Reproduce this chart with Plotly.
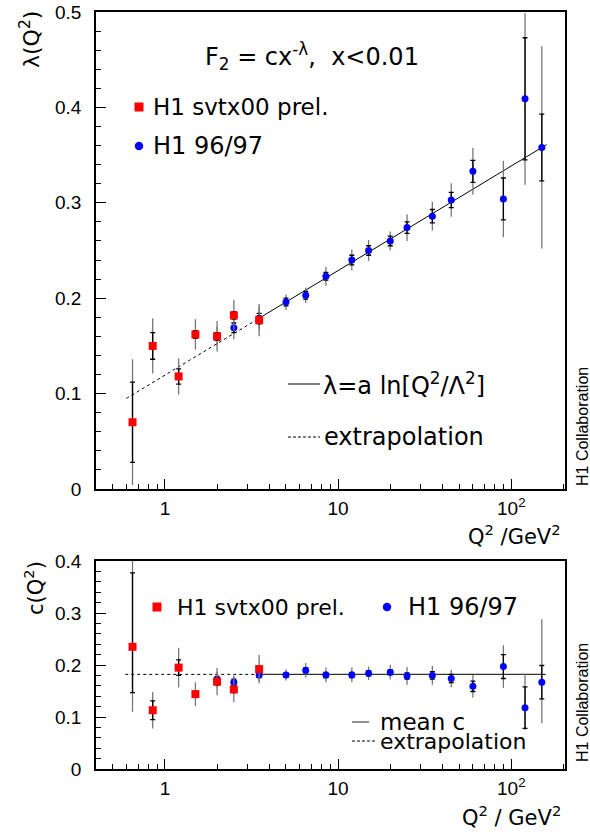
import math
import plotly.graph_objects as go

# ---------------- data ----------------
# top panel: lambda(Q2)
red_q2 = [0.65, 0.85, 1.2, 1.5, 2.0, 2.5, 3.5]
red_lam = [0.070, 0.150, 0.118, 0.162, 0.160, 0.182, 0.177]
red_lam_stat = [0.042, 0.014, 0.008, 0.004, 0.004, 0.004, 0.004]
red_lam_tot = [0.066, 0.029, 0.019, 0.016, 0.016, 0.016, 0.017]

blue_q2 = [2.0, 2.5, 3.5, 5.0, 6.5, 8.5, 12, 15, 20, 25, 35, 45, 60, 90, 120, 150]
blue_lam = [0.160, 0.169, 0.179, 0.196, 0.203, 0.223, 0.240, 0.250, 0.260, 0.274,
            0.286, 0.303, 0.333, 0.304, 0.409, 0.358]
blue_lam_stat = [0.004, 0.005, 0.005, 0.004, 0.004, 0.004, 0.005, 0.005, 0.005, 0.006,
                 0.007, 0.008, 0.0115, 0.022, 0.064, 0.035]
blue_lam_tot = [0.010, 0.012, 0.012, 0.008, 0.008, 0.010, 0.011, 0.011, 0.010, 0.014,
                0.015, 0.0175, 0.0245, 0.040, 0.090, 0.106]

# fit lambda = a ln(Q2/Lambda2): solid part and extrapolation (end points read)
fit_q2 = [3.5, 160]
fit_lam = [0.179, 0.361]
extr_q2 = [0.6, 3.5]
extr_lam = [0.095, 0.179]

# bottom panel: c(Q2)
red_c = [0.235, 0.113, 0.195, 0.144, 0.168, 0.153, 0.192]
red_c_stat_p = [0.142, 0.018, 0.015, 0.005, 0.006, 0.006, 0.006]
red_c_stat_m = [0.088, 0.018, 0.015, 0.005, 0.006, 0.006, 0.006]
red_c_tot_p = [0.170, 0.035, 0.038, 0.023, 0.026, 0.024, 0.027]
red_c_tot_m = [0.125, 0.035, 0.038, 0.023, 0.026, 0.024, 0.027]

blue_c = [0.172, 0.167, 0.181, 0.181, 0.190, 0.181, 0.181, 0.184, 0.186, 0.179,
          0.180, 0.174, 0.159, 0.197, 0.118, 0.167]
blue_c_stat = [0.006, 0.006, 0.005, 0.004, 0.005, 0.005, 0.005, 0.005, 0.005, 0.006,
               0.007, 0.008, 0.010, 0.023, 0.040, 0.032]
blue_c_tot_p = [0.015, 0.013, 0.012, 0.011, 0.014, 0.014, 0.014, 0.013, 0.014, 0.017,
                0.018, 0.017, 0.022, 0.041, 0.064, 0.121]
blue_c_tot_m = [0.015, 0.013, 0.012, 0.011, 0.014, 0.014, 0.014, 0.013, 0.014, 0.017,
                0.018, 0.017, 0.022, 0.041, 0.043, 0.079]

meanc_q2 = [3.5, 158]
meanc_c = [0.182, 0.182]
meanc_extr_q2 = [0.59, 3.5]
meanc_extr_c = [0.182, 0.182]

x_tickvals = [1, 10, 100]
x_ticktext = ["1", "10", "10<sup>2</sup>"]
x_minor = [0.4, 0.5, 0.6, 0.7, 0.8, 0.9, 2, 3, 4, 5, 6, 7, 8, 9,
           20, 30, 40, 50, 60, 70, 80, 90, 200]

# ---------------- layout geometry ----------------
W, H = 590, 833
ML, MR, MT, MB = 96, 25, 12, 64
PW, PH = W - ML - MR, H - MT - MB


def px(x):
    return (x - ML) / PW


def py(y):
    return (H - MB - y) / PH


RED = "#ff0000"
BLUE = "#0000ff"
GREY = "#777777"
TXT = "DejaVu Sans"
TICKF = "Liberation Sans"

fig = go.Figure()


def add_points(q2, val, stat_p, stat_m, tot_p, tot_m, color, symbol, size, xa, ya):
    fig.add_trace(go.Scatter(
        x=q2, y=val, mode="markers", xaxis=xa, yaxis=ya,
        marker=dict(size=1, opacity=0),
        error_y=dict(type="data", symmetric=False, array=tot_p, arrayminus=tot_m,
                     width=0, thickness=1.3, color=GREY),
        hoverinfo="skip", showlegend=False))
    fig.add_trace(go.Scatter(
        x=q2, y=val, mode="markers", xaxis=xa, yaxis=ya,
        marker=dict(size=size, color=color, symbol=symbol, line=dict(width=0)),
        error_y=dict(type="data", symmetric=False, array=stat_p, arrayminus=stat_m,
                     width=2.5, thickness=1.3, color="black"),
        showlegend=False))


# top panel lines
fig.add_trace(go.Scatter(x=extr_q2, y=extr_lam, mode="lines", xaxis="x", yaxis="y",
                         line=dict(color="black", width=1, dash="3px,3px"), showlegend=False))
fig.add_trace(go.Scatter(x=fit_q2, y=fit_lam, mode="lines", xaxis="x", yaxis="y",
                         line=dict(color="black", width=1), showlegend=False))
# bottom panel lines
fig.add_trace(go.Scatter(x=meanc_extr_q2, y=meanc_extr_c, mode="lines", xaxis="x2", yaxis="y2",
                         line=dict(color="black", width=1, dash="3px,3px"), showlegend=False))
fig.add_trace(go.Scatter(x=meanc_q2, y=meanc_c, mode="lines", xaxis="x2", yaxis="y2",
                         line=dict(color="#333333", width=1.3), showlegend=False))

add_points(blue_q2, blue_lam, blue_lam_stat, blue_lam_stat, blue_lam_tot, blue_lam_tot,
           BLUE, "circle", 7, "x", "y")
add_points(red_q2, red_lam, red_lam_stat, red_lam_stat, red_lam_tot, red_lam_tot,
           RED, "square", 8, "x", "y")
add_points(blue_q2, blue_c, blue_c_stat, blue_c_stat, blue_c_tot_p, blue_c_tot_m,
           BLUE, "circle", 7, "x2", "y2")
add_points(red_q2, red_c, red_c_stat_p, red_c_stat_m, red_c_tot_p, red_c_tot_m,
           RED, "square", 8, "x2", "y2")

xr = [math.log10(0.4), 2.31]
xcommon = dict(type="log", range=xr, tickmode="array", tickvals=x_tickvals,
               ticktext=x_ticktext, ticks="inside", ticklen=10, tickwidth=1,
               tickcolor="black", showline=True, linecolor="black", linewidth=1.5,
               mirror=True, showgrid=False, zeroline=False, automargin=False,
               tickfont=dict(family=TICKF, size=19, color="black"),
               ticklabelstandoff=1,
               minor=dict(tickmode="array", tickvals=x_minor, ticks="inside",
                          ticklen=5, tickwidth=1, tickcolor="black", showgrid=False))
ycommon = dict(ticks="inside", ticklen=10, tickwidth=1, tickcolor="black",
               showline=True, linecolor="black", linewidth=1.5, mirror=True,
               showgrid=False, zeroline=False, tick0=0, dtick=0.1, automargin=False,
               tickfont=dict(family=TICKF, size=19, color="black"),
               ticklabelstandoff=9,
               minor=dict(dtick=0.02, ticks="inside", ticklen=5, tickwidth=1,
                          tickcolor="black", showgrid=False))

top_dom = [py(489), 1.0]
bot_dom = [0.0, py(561)]

fig.update_layout(
    width=W, height=H, margin=dict(l=ML, r=MR, t=MT, b=MB, autoexpand=False),
    paper_bgcolor="white", plot_bgcolor="white", showlegend=False,
    xaxis=dict(domain=[0, 1], anchor="y", **xcommon),
    yaxis=dict(domain=top_dom, anchor="x", range=[0, 0.5], **ycommon),
    xaxis2=dict(domain=[0, 1], anchor="y2", **xcommon),
    yaxis2=dict(domain=bot_dom, anchor="x2", range=[0, 0.4], **ycommon),
)

anns = []


def ann(text, x, y, size=24, xanchor="left", family=TXT, angle=0, yanchor="middle"):
    anns.append(dict(text=text, x=px(x), y=py(y), xref="paper", yref="paper",
                     xanchor=xanchor, yanchor=yanchor, showarrow=False,
                     textangle=angle, font=dict(family=family, size=size, color="black")))


# top panel texts
ann("F<sub>2</sub> = cx<sup>-λ</sup>,  x<0.01", 203, 57)
ann("H1 svtx00 prel.", 151, 107, size=23)
ann("H1 96/97", 151, 146)
ann("λ=a ln[Q<sup>2</sup>/Λ<sup>2</sup>]", 321, 384)
ann("extrapolation", 322, 437)
ann("λ(Q<sup>2</sup>)", 30, 40, size=22, xanchor="center", angle=-90)
ann("Q<sup>2</sup> /GeV<sup>2</sup>", 563, 535, size=21, xanchor="right")
ann("H1 Collaboration", 582, 427, size=16, xanchor="center", family=TICKF, angle=-90)

# bottom panel texts
ann("H1 svtx00 prel.", 175, 607, size=22)
ann("H1 96/97", 406, 607)
ann("mean c", 378, 722, size=23)
ann("extrapolation", 378, 741, size=22)
ann("c(Q<sup>2</sup>)", 34, 588, size=21, xanchor="center", angle=-90)
ann("Q<sup>2</sup> / GeV<sup>2</sup>", 563, 816, size=21, xanchor="right")
ann("H1 Collaboration", 582, 703, size=16, xanchor="center", family=TICKF, angle=-90)

fig.update_layout(annotations=anns)

# legend keys (decorations in paper coordinates)
shapes = []


def key_square(cx, cy, s, color):
    shapes.append(dict(type="rect", xref="paper", yref="paper",
                       x0=px(cx - s / 2), x1=px(cx + s / 2), y0=py(cy + s / 2), y1=py(cy - s / 2),
                       fillcolor=color, line=dict(width=0)))


def key_circle(cx, cy, s, color):
    shapes.append(dict(type="circle", xref="paper", yref="paper",
                       x0=px(cx - s / 2), x1=px(cx + s / 2), y0=py(cy + s / 2), y1=py(cy - s / 2),
                       fillcolor=color, line=dict(width=0)))


def key_line(x0, x1, y, dash="solid", color="black", width=1):
    shapes.append(dict(type="line", xref="paper", yref="paper",
                       x0=px(x0), x1=px(x1), y0=py(y), y1=py(y),
                       line=dict(color=color, width=width, dash=dash)))


key_square(139, 107, 9, RED)
key_circle(139, 146, 8.5, BLUE)
key_line(288, 320, 384)
key_line(288, 320, 437, dash="3px,2px")
key_square(157, 607, 9, RED)
key_circle(387, 607, 8.5, BLUE)
key_line(352, 369, 722, color="#555555", width=1.3)
key_line(352, 375, 741, dash="3px,2px")

fig.update_layout(shapes=shapes)

fig.write_html("out.html", config={"displayModeBar": False},
               post_script="document.body.style.margin='0px';")
